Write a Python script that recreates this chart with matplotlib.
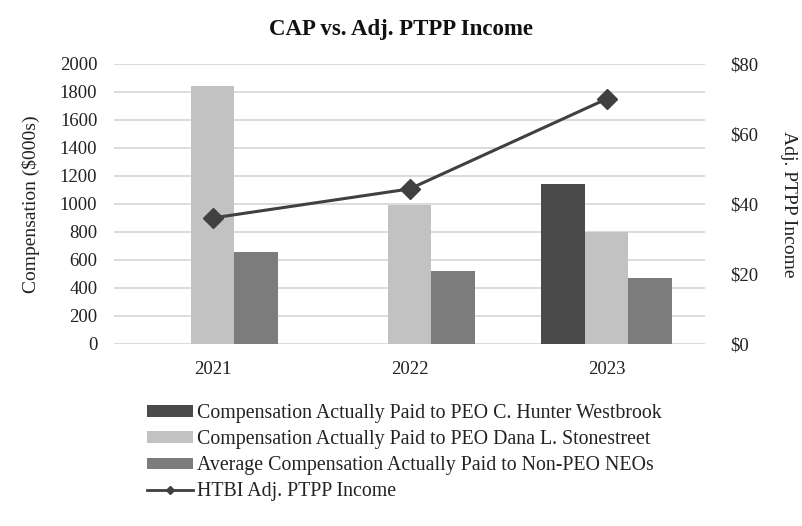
import matplotlib
matplotlib.use("Agg")
import matplotlib.pyplot as plt
import numpy as np
from matplotlib.lines import Line2D

years = ["2021", "2022", "2023"]
westbrook = [0, 0, 1145]
stonestreet = [1845, 995, 797]
non_peo = [655, 525, 471]
ptpp_income = [36.0, 44.3, 70.0]

series_labels = [
    "Compensation Actually Paid to PEO C. Hunter Westbrook",
    "Compensation Actually Paid to PEO Dana L. Stonestreet",
    "Average Compensation Actually Paid to Non-PEO NEOs",
    "HTBI Adj. PTPP Income",
]
left_ticks = list(range(0, 2001, 200))
right_ticks = [0, 20, 40, 60, 80]

plt.rcParams['font.family'] = ['Liberation Serif', 'DejaVu Serif']

fig = plt.figure(figsize=(8.03, 5.26), dpi=100)
ax = fig.add_axes([114/803, 1-344/526, (705-114)/803, 280/526])
ax2 = ax.twinx()

x = np.arange(len(years))
w = 0.22
c_dark, c_light, c_mid, c_line = "#4a4a4a", "#c2c2c2", "#7c7c7c", "#404040"
b1 = ax.bar(x - w, westbrook, w, color=c_dark, zorder=2)
b2 = ax.bar(x, stonestreet, w, color=c_light, zorder=2)
b3 = ax.bar(x + w, non_peo, w, color=c_mid, zorder=2)

ln, = ax2.plot(x, ptpp_income, color=c_line, lw=2.2, marker="D", ms=10, zorder=3)

ax.set_xlim(-0.5, 2.5)
ax.set_ylim(0, 2000)
ax.set_yticks(left_ticks)
ax.set_yticklabels([str(t) for t in left_ticks])
ax2.set_ylim(0, 80)
ax2.set_yticks(right_ticks)
ax2.set_yticklabels([f"${t}" for t in right_ticks])
ax.set_xticks(x)
ax.set_xticklabels(years)

ax.grid(axis="y", color="#d9d9d9", lw=1.3, zorder=0)
ax.set_axisbelow(True)
for a in (ax, ax2):
    for s in a.spines.values():
        s.set_visible(False)
    a.tick_params(length=0, labelsize=13.5, colors="#222222")
ax.tick_params(axis="y", pad=12)
ax.tick_params(axis="x", pad=12)
ax2.tick_params(axis="y", pad=18)

ax.set_ylabel("Compensation ($000s)", fontsize=14, color="#222222", labelpad=14)
ax2.set_ylabel("Adj. PTPP Income", fontsize=14, color="#222222", rotation=270, labelpad=28)

fig.text(0.5, 1-29/526, "CAP vs. Adj. PTPP Income", ha="center", va="center",
         fontsize=16.5, fontweight="bold", color="#111111")

lh = Line2D([], [], color=c_line, lw=2, marker="D", ms=4)
leg = fig.legend([b1, b2, b3, lh], series_labels, loc="upper left",
                 bbox_to_anchor=(139/803, 1-396/526), frameon=False,
                 fontsize=14.3, handlelength=2.3, handleheight=0.5,
                 labelspacing=0.36, handletextpad=0.2, borderaxespad=0)
for t in leg.get_texts():
    t.set_color("#222222")

fig.savefig("out.png", dpi=100)
